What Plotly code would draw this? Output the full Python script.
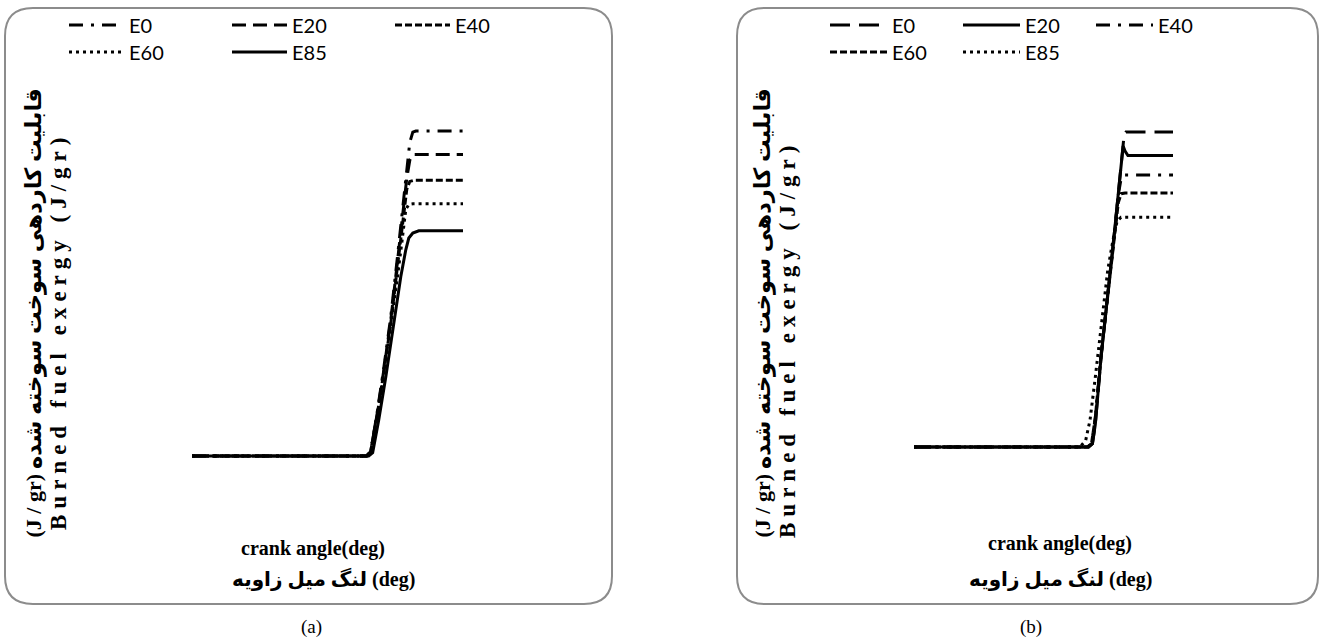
import plotly.graph_objects as go

W, H = 1323, 644

# ---------------- data ----------------
series_names = ["E0", "E20", "E40", "E60", "E85"]

# panel (a)
a_E0_x = [-180, -6, -2, 4, 11, 18, 24, 28, 31, 34, 37, 40, 43, 90]
a_E0_y = [0, 0, 40, 360, 780, 1240, 1720, 2050, 2320, 2580, 2800, 2890, 2900, 2900]
a_E20_x = [-180, -6, -2, 4, 11, 18, 24, 28, 31, 34, 37, 40, 90]
a_E20_y = [0, 0, 40, 350, 760, 1210, 1680, 2000, 2250, 2480, 2640, 2690, 2690]
a_E40_x = [-180, -6, -2, 4, 11, 18, 24, 28, 31, 34, 37, 41, 90]
a_E40_y = [0, 0, 40, 340, 740, 1180, 1640, 1950, 2200, 2380, 2450, 2460, 2460]
a_E60_x = [-180, -6, -2, 4, 11, 18, 25, 29, 31, 33, 36, 40, 90]
a_E60_y = [0, 0, 40, 330, 720, 1150, 1620, 1900, 2080, 2200, 2245, 2250, 2250]
a_E85_x = [-180, -4, 0, 6, 13, 20, 28, 33, 36, 40, 46, 90]
a_E85_y = [0, 0, 30, 320, 700, 1120, 1600, 1840, 1945, 1990, 2010, 2010]

# panel (b)
b_E0_x = [-180, 2, 6, 9, 15, 22, 29, 34, 37, 39, 41, 90]
b_E0_y = [0, 0, 30, 200, 800, 1330, 1920, 2350, 2640, 2780, 2810, 2810]
b_E20_x = [-180, 2, 6, 9, 15, 22, 29, 34, 37, 38, 40, 43, 90]
b_E20_y = [0, 0, 30, 200, 800, 1330, 1920, 2350, 2640, 2685, 2640, 2600, 2600]
b_E40_x = [-180, 1, 5, 9, 15, 22, 29, 33, 36, 40, 90]
b_E40_y = [0, 0, 30, 260, 820, 1340, 1900, 2250, 2400, 2426, 2426]
b_E60_x = [-180, 1, 5, 9, 15, 22, 29, 33, 36, 40, 90]
b_E60_y = [0, 0, 30, 260, 820, 1340, 1900, 2180, 2260, 2266, 2266]
b_E85_x = [-180, -7, -1, 3.5, 8.7, 16, 22, 27.5, 31.6, 35.8, 90]
b_E85_y = [0, 0, 60, 240, 600, 1130, 1580, 1850, 2010, 2050, 2050]

a_data = [(a_E0_x, a_E0_y), (a_E20_x, a_E20_y), (a_E40_x, a_E40_y), (a_E60_x, a_E60_y), (a_E85_x, a_E85_y)]
b_data = [(b_E0_x, b_E0_y), (b_E20_x, b_E20_y), (b_E40_x, b_E40_y), (b_E60_x, b_E60_y), (b_E85_x, b_E85_y)]

x_title = "crank angle(deg)"
x_title_fa = "لنگ میل زاویه (deg)"   # words ordered so they appear as in the picture
y_title_fa_unit = "(J / gr)"
y_title_fa = "قابلیت کاردهی سوخت سوخته شده"
y_title_en = "Burned fuel exergy (J/gr)"
panel_labels = ["(a)", "(b)"]

# ---------------- styles ----------------
a_dash = ["14px,8px,3px,8px", "14px,7px", "7px,3px", "3px,4px", "solid"]
b_dash = ["20px,9px", "solid", "14px,8px,3px,8px", "7px,3px", "3px,4px"]
a_legend = ["legend", "legend", "legend", "legend2", "legend2"]
b_legend = ["legend3", "legend3", "legend3", "legend4", "legend4"]

fig = go.Figure()
for i, name in enumerate(series_names):
    x, y = a_data[i]
    fig.add_trace(go.Scatter(x=x, y=y, mode="lines", name=name, xaxis="x", yaxis="y",
                             line=dict(color="black", width=3, dash=a_dash[i]),
                             legend=a_legend[i]))
for i, name in enumerate(series_names):
    x, y = b_data[i]
    fig.add_trace(go.Scatter(x=x, y=y, mode="lines", name=name, xaxis="x2", yaxis="y2",
                             line=dict(color="black", width=3, dash=b_dash[i]),
                             legend=b_legend[i]))


def axis_map(v0, v1, p0, p1, pad):
    k = (v1 - v0) / (p1 - p0)
    return [v0 - pad * abs(k), v1 + pad * abs(k)]


pad = 6
xa_rng = axis_map(-180, 90, 192, 463, pad)
ya_rng = axis_map(0, 2900, 456, 131, pad)
xb_rng = axis_map(-180, 90, 914, 1173, pad)
yb_rng = axis_map(0, 2810, 447, 132, pad)

hidden = dict(showgrid=False, zeroline=False, showticklabels=False, showline=False, ticks="")
fig.update_layout(
    xaxis=dict(domain=[(192 - pad) / W, (463 + pad) / W], range=xa_rng, anchor="y", **hidden),
    yaxis=dict(domain=[1 - (456 + pad) / H, 1 - (131 - pad) / H], range=ya_rng, anchor="x", **hidden),
    xaxis2=dict(domain=[(914 - pad) / W, (1173 + pad) / W], range=xb_rng, anchor="y2", **hidden),
    yaxis2=dict(domain=[1 - (447 + pad) / H, 1 - (132 - pad) / H], range=yb_rng, anchor="x2", **hidden),
)

leg_font = dict(family="Lato, Open Sans, sans-serif", size=20, color="black")
leg_common = dict(orientation="h", xanchor="left", yanchor="middle", font=leg_font,
                  bgcolor="rgba(0,0,0,0)", entrywidthmode="pixels",
                  itemclick=False, itemdoubleclick=False)
fig.update_layout(
    legend=dict(x=64 / W, y=1 - 25 / H, entrywidth=93, itemwidth=55, **leg_common),
    legend2=dict(x=64 / W, y=1 - 52 / H, entrywidth=93, itemwidth=55, **leg_common),
    legend3=dict(x=825 / W, y=1 - 25 / H, entrywidth=61, itemwidth=57, **leg_common),
    legend4=dict(x=825 / W, y=1 - 52 / H, entrywidth=61, itemwidth=57, **leg_common),
)


def rounded(x0, y0, x1, y1, r):
    def P(px, py):
        return f"{px / W:.5f},{1 - py / H:.5f}"
    return (f"M {P(x0 + r, y0)} L {P(x1 - r, y0)} Q {P(x1, y0)} {P(x1, y0 + r)} "
            f"L {P(x1, y1 - r)} Q {P(x1, y1)} {P(x1 - r, y1)} "
            f"L {P(x0 + r, y1)} Q {P(x0, y1)} {P(x0, y1 - r)} "
            f"L {P(x0, y0 + r)} Q {P(x0, y0)} {P(x0 + r, y0)} Z")


border = dict(color="#8c8c8c", width=2)
fig.add_shape(type="path", path=rounded(5, 8, 612, 604, 28), xref="paper", yref="paper", line=border)
fig.add_shape(type="path", path=rounded(737, 8, 1318, 604, 28), xref="paper", yref="paper", line=border)

tfont = dict(family="Liberation Serif, Times New Roman, DejaVu Sans, serif", size=20, color="black")


def ann(text, px, py, angle=0, xa="center", ya="middle", font=tfont):
    fig.add_annotation(text=text, x=px / W, y=1 - py / H, xref="paper", yref="paper",
                       showarrow=False, textangle=angle, xanchor=xa, yanchor=ya, font=font)


y_fa_text = ("<b><span style='font-size:22px'>" + y_title_fa_unit + "</span> "
             "<span style='font-size:22.5px'>" + y_title_fa + "</span></b>")
y_en_text = "<b><span style='font-size:23px;letter-spacing:6px'>" + y_title_en + "</span></b>"

# panel (a) titles
ann("<b>" + x_title + "</b>", 313, 548)
ann("<b>" + x_title_fa + "</b>", 323, 579)
ann(y_fa_text, 33, 540, angle=-90, ya="bottom")
ann(y_en_text, 58, 532, angle=-90, ya="bottom")
# panel (b) titles
ann("<b>" + x_title + "</b>", 1060, 543)
ann("<b>" + x_title_fa + "</b>", 1060, 579)
ann(y_fa_text, 762, 540, angle=-90, ya="bottom")
ann(y_en_text, 787, 540, angle=-90, ya="bottom")
# panel labels
lab_font = dict(family="Liberation Serif, serif", size=19, color="black")
ann(panel_labels[0], 311, 627, font=lab_font)
ann(panel_labels[1], 1031, 627, font=lab_font)

fig.update_layout(width=W, height=H, margin=dict(l=0, r=0, t=0, b=0, autoexpand=False),
                  paper_bgcolor="white", plot_bgcolor="white", showlegend=True)

post = ("document.body.style.margin='0';document.body.style.overflow='hidden';"
        "var gd=document.getElementById('{plot_id}');"
        "Plotly.relayout(gd,{width:%d,height:%d});" % (W, H))
fig.write_html("out.html", post_script=post, config={"displayModeBar": False})
